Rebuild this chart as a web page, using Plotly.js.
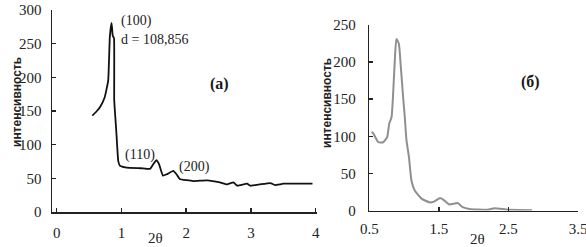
<!DOCTYPE html>
<html>
<head>
<meta charset="utf-8">
<script src="https://cdn.plot.ly/plotly-3.0.1.min.js"></script>
<style>html,body{margin:0;padding:0;background:#fff;}#chart{width:586px;height:247px;}</style>
</head>
<body>
<div id="chart"></div>
<script>
// Panel (a)
const xA = [0.55, 0.62, 0.67, 0.74, 0.795, 0.82, 0.847, 0.865, 0.885, 0.888, 0.92, 0.95, 0.975, 1.08, 1.30, 1.44, 1.49, 1.54, 1.58, 1.64, 1.70, 1.80, 1.85, 1.90, 2.11, 2.32, 2.52, 2.63, 2.73, 2.79, 2.94, 2.99, 3.14, 3.30, 3.37, 3.50, 3.76, 3.95];
const yA = [143, 150, 156, 170, 195, 260, 281, 262, 258, 166, 120, 76, 69, 66, 65, 64, 71, 77, 71, 54, 56, 61, 56, 49, 46, 47, 44, 41, 44, 39, 42, 39, 41, 43, 40, 42, 42, 42];
// Panel (б)
const xB = [0.534, 0.557, 0.63, 0.70, 0.757, 0.786, 0.82, 0.843, 0.867, 0.89, 0.924, 0.953, 0.986, 1.01, 1.034, 1.07, 1.106, 1.153, 1.25, 1.367, 1.43, 1.52, 1.585, 1.653, 1.77, 1.843, 1.94, 2.2, 2.3, 2.5, 2.84];
const yB = [106, 104, 92, 92, 99, 117, 126, 158, 203, 231, 225, 194, 153, 126, 95, 72, 40, 27, 16, 11, 12, 17, 13, 8, 10, 4.5, 2, 1, 3, 1, 0.5];
const ticksA_x = [0, 1, 2, 3, 4];
const ticksA_y = [0, 50, 100, 150, 200, 250, 300];
const ticksB_x = [0.5, 1.5, 2.5, 3.5];
const ticksB_y = [0, 50, 100, 150, 200, 250];
const yTitle = 'интенсивность';
const xTitle = '2θ';

const SERIF = 'Times New Roman';
const SANS = 'Liberation Sans';
const serif = {family: SERIF, size: 15, color: '#222'};
const axisCommon = {
  showgrid: false, zeroline: false, showline: true, linecolor: '#222', linewidth: 1.5,
  ticks: 'inside', ticklen: 4, tickwidth: 1.5, tickcolor: '#222', tickfont: serif, fixedrange: true,
  ticklabeloverflow: 'allow'
};

const traces = [
  {x: xA, y: yA, xaxis: 'x', yaxis: 'y', mode: 'lines', line: {color: '#111', width: 1.8, shape: 'spline', smoothing: 0.3}, hoverinfo: 'skip'},
  {x: xB, y: yB, xaxis: 'x2', yaxis: 'y2', mode: 'lines', line: {color: '#8f8f8f', width: 2, shape: 'spline', smoothing: 0.5}, hoverinfo: 'skip'}
];

const W = 586, H = 247;
function note(px, py, text, font, extra) {
  return Object.assign({xref: 'paper', yref: 'paper', x: px / W, y: (H - py) / H, text: text,
    showarrow: false, xanchor: 'center', yanchor: 'middle', font: font}, extra || {});
}
const titleFont = {family: SANS, size: 12, color: '#222', weight: 'bold'};
const noteFont = {family: SERIF, size: 14, color: '#222'};
const labelFont = {family: SERIF, size: 16, color: '#1a1a1a', weight: 'bold'};

const layout = {
  width: W, height: H, margin: {l: 0, r: 0, t: 0, b: 0},
  paper_bgcolor: '#fff', plot_bgcolor: 'rgba(0,0,0,0)', showlegend: false,
  xaxis: Object.assign({}, axisCommon, {domain: [52 / W, 317 / W], range: [-0.073, 4.02], tickvals: ticksA_x, ticktext: ticksA_x.map(String), anchor: 'y', ticklabelstandoff: 6}),
  yaxis: Object.assign({}, axisCommon, {domain: [(H - 212) / H, (H - 10) / H], range: [0, 300], tickvals: ticksA_y, ticktext: ticksA_y.map(String), anchor: 'x', ticklabelstandoff: 6}),
  xaxis2: Object.assign({}, axisCommon, {domain: [369.3 / W, 578 / W], range: [0.5, 3.5], tickvals: ticksB_x, ticktext: ticksB_x.map(String), anchor: 'y2', ticklabelstandoff: 4}),
  yaxis2: Object.assign({}, axisCommon, {domain: [(H - 210.5) / H, (H - 25) / H], range: [0, 250], tickvals: ticksB_y, ticktext: ticksB_y.map(String), anchor: 'x2', ticklabelstandoff: 9}),
  annotations: [
    note(17, 102, yTitle, titleFont, {textangle: -90}),
    note(327, 103, yTitle, titleFont, {textangle: -90}),
    note(155, 238, xTitle, serif),
    note(477, 239, xTitle, serif),
    note(119, 21, '(100)', noteFont, {xanchor: 'left'}),
    note(119, 40, 'd = 108,856', noteFont, {xanchor: 'left'}),
    note(123, 155, '(110)', noteFont, {xanchor: 'left'}),
    note(177, 167, '(200)', noteFont, {xanchor: 'left'}),
    note(219, 84, '(a)', labelFont),
    note(530, 82, '(б)', labelFont)
  ]
};

Plotly.newPlot('chart', traces, layout, {staticPlot: true, displayModeBar: false});
</script>
</body>
</html>
